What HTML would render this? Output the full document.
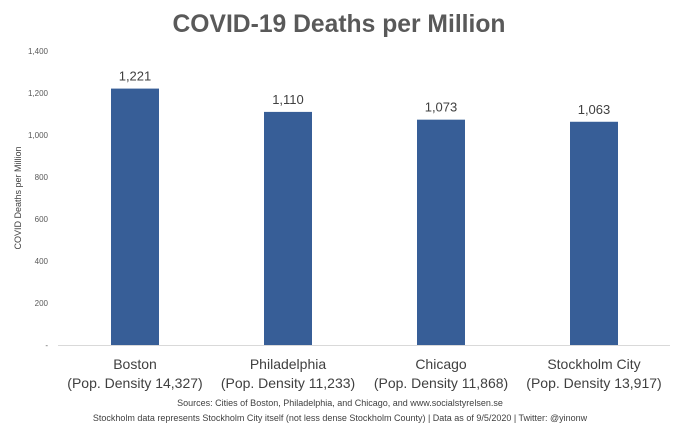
<!DOCTYPE html>
<html><head><meta charset="utf-8"><style>
body{margin:0;background:#fff;font-family:"Liberation Sans",sans-serif;}
svg{display:block}
</style></head><body>
<svg id="chart" width="679" height="433">
<text x="339" y="32" text-anchor="middle" font-size="25" font-weight="bold" fill="#595959" textLength="333" lengthAdjust="spacingAndGlyphs">COVID-19 Deaths per Million</text>
<text transform="translate(21,198) rotate(-90)" text-anchor="middle" font-size="9" fill="#404040">COVID Deaths per Million</text>
<g id="yticks"></g>
<line x1="58" y1="345.5" x2="670" y2="345.5" stroke="#d9d9d9"/>
<g id="bars"></g>
<text x="340" y="406" text-anchor="middle" font-size="9" fill="#404040">Sources: Cities of Boston, Philadelphia, and Chicago, and www.socialstyrelsen.se</text>
<text x="340" y="421" text-anchor="middle" font-size="9" fill="#404040">Stockholm data represents Stockholm City itself (not less dense Stockholm County) | Data as of 9/5/2020 | Twitter: @yinonw</text>
</svg>
<script>
const categories=["Boston","Philadelphia","Chicago","Stockholm City"];
const densities=["(Pop. Density 14,327)","(Pop. Density 11,233)","(Pop. Density 11,868)","(Pop. Density 13,917)"];
const values=[1221,1110,1073,1063];
const tickValues=[0,200,400,600,800,1000,1200,1400];
const tickLabels=["-","200","400","600","800","1,000","1,200","1,400"];
const NS="http://www.w3.org/2000/svg";
const y0=345,yTop=51,yMax=1400;
const y=v=>y0-(v/yMax)*(y0-yTop);
const x=i=>135+i*153;
const mk=(t,a,txt)=>{const e=document.createElementNS(NS,t);for(const k in a)e.setAttribute(k,a[k]);if(txt!=null)e.textContent=txt;return e;};
const yt=document.getElementById('yticks');
tickValues.forEach((v,i)=>{
 const t=mk('text',{x:48,y:y(v)+3,'text-anchor':'end','font-size':8,fill:'#595959'},tickLabels[i]);
 
 
 yt.appendChild(t);
});
const bg=document.getElementById('bars');
values.forEach((v,i)=>{
 const r=mk('rect',{x:x(i)-24,y:y(v),width:48,height:y0-y(v),fill:'#375e97'});
 
 
 bg.appendChild(r);
 const l=mk('text',{x:x(i),y:y(v)-8,'text-anchor':'middle','font-size':13,fill:'#404040'},v.toLocaleString('en-US'));
 
 
 bg.appendChild(l);
 const c=mk('text',{x:x(i),y:369,'text-anchor':'middle','font-size':14,fill:'#404040'},categories[i]);
 
 
 bg.appendChild(c);
 const d=mk('text',{x:x(i),y:388,'text-anchor':'middle','font-size':14,fill:'#404040'},densities[i]);
 
 
 bg.appendChild(d);
});
</script>
</body></html>
